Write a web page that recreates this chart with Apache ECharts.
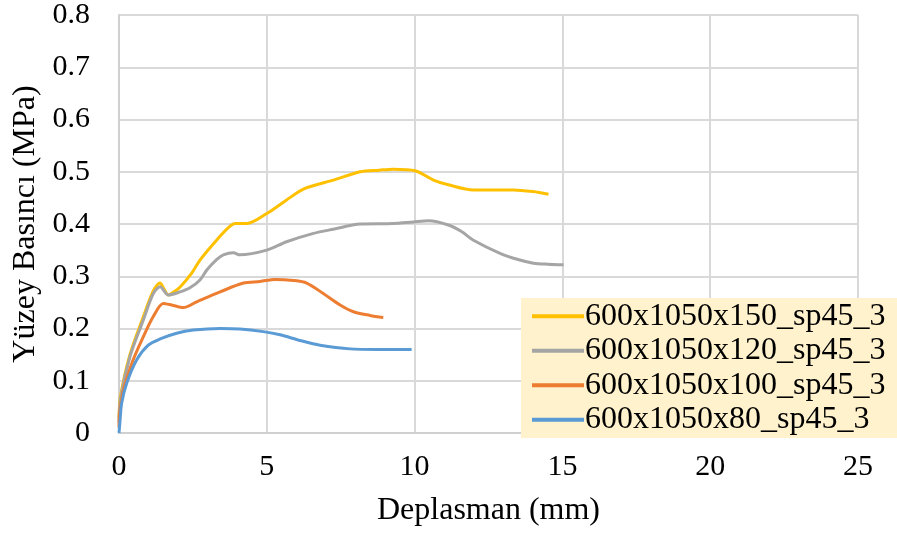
<!DOCTYPE html>
<html>
<head>
<meta charset="utf-8">
<script src="https://cdn.jsdelivr.net/npm/echarts@6/dist/echarts.min.js"></script>
<style>
html,body{margin:0;padding:0;background:#fff;}
#chart{width:897px;height:535px;}
</style>
</head>
<body>
<div id="chart"></div>
<script>
var seriesNames = ['600x1050x150_sp45_3','600x1050x120_sp45_3','600x1050x100_sp45_3','600x1050x80_sp45_3'];
var seriesColors = ['#FFC000','#A5A5A5','#ED7D31','#5B9BD5'];
var xTicks = [0,5,10,15,20,25];
var yTicks = [0,0.1,0.2,0.3,0.4,0.5,0.6,0.7,0.8];

var s150 = [[0,0.03],[0.05,0.07],[0.37,0.15],[0.82,0.222],[1.16,0.272],[1.39,0.287],[1.5,0.278],[1.67,0.264],[1.85,0.27],[2.06,0.279],[2.46,0.306],[2.74,0.331],[3.3,0.369],[3.7,0.393],[3.93,0.401],[4.32,0.401],[5.0,0.42],[5.67,0.446],[6.29,0.468],[7.25,0.484],[8.16,0.5],[8.8,0.503],[9.28,0.505],[10.02,0.502],[10.64,0.484],[11.14,0.475],[11.99,0.465],[13.34,0.465],[14.0,0.462],[14.53,0.457]];
var s120 = [[0,0.02],[0.05,0.065],[0.37,0.146],[0.82,0.216],[1.16,0.267],[1.39,0.28],[1.67,0.264],[2.06,0.27],[2.4,0.278],[2.74,0.293],[2.97,0.312],[3.3,0.332],[3.53,0.341],[3.87,0.345],[4.09,0.341],[5.0,0.35],[5.67,0.366],[6.58,0.382],[7.25,0.39],[8.16,0.4],[9.28,0.401],[9.96,0.404],[10.47,0.406],[11.14,0.398],[11.6,0.385],[11.99,0.369],[12.89,0.344],[13.5,0.332],[14.02,0.325],[14.5,0.323],[15.04,0.322]];
var s100 = [[0,0.01],[0.02,0.038],[0.15,0.082],[0.48,0.14],[0.82,0.184],[1.16,0.223],[1.5,0.248],[1.78,0.245],[2.18,0.24],[2.63,0.251],[3.42,0.27],[4.21,0.287],[4.77,0.29],[5.28,0.294],[5.9,0.292],[6.35,0.287],[6.91,0.267],[7.48,0.245],[7.93,0.232],[8.49,0.225],[8.94,0.221]];
var s80 = [[0,0],[0.03,0.02],[0.09,0.057],[0.26,0.095],[0.6,0.14],[0.99,0.168],[1.39,0.18],[1.95,0.191],[2.51,0.197],[3.42,0.2],[4.09,0.199],[4.88,0.194],[5.45,0.188],[6.13,0.177],[6.8,0.168],[7.82,0.161],[8.72,0.16],[9.9,0.16]];

var seriesData = [s150, s120, s100, s80];
var FONT = '"Liberation Serif", "Times New Roman", serif';

var chart = echarts.init(document.getElementById('chart'), null, {renderer:'canvas'});
chart.setOption({
  animation: false,
  backgroundColor: '#ffffff',
  grid: {left: 119, right: 39, top: 15, bottom: 102, containLabel: false},
  xAxis: {
    type: 'value', min: xTicks[0], max: xTicks[xTicks.length-1], interval: 5,
    name: 'Deplasman (mm)', nameLocation: 'middle', nameGap: 62,
    nameTextStyle: {fontFamily: FONT, fontSize: 32, color: '#000'},
    axisLine: {show: true, lineStyle: {color: '#D0D0D0', width: 2}},
    axisTick: {show: false},
    axisLabel: {fontFamily: FONT, fontSize: 30, color: '#000', margin: 19},
    splitLine: {show: true, lineStyle: {color: '#D9D9D9', width: 2}}
  },
  yAxis: {
    type: 'value', min: yTicks[0], max: yTicks[yTicks.length-1], interval: 0.1,
    name: 'Yüzey Basıncı (MPa)', nameLocation: 'middle', nameGap: 74,
    nameTextStyle: {fontFamily: FONT, fontSize: 32, color: '#000'},
    axisLine: {show: true, lineStyle: {color: '#D0D0D0', width: 2}},
    axisTick: {show: false},
    axisLabel: {fontFamily: FONT, fontSize: 30, color: '#000', margin: 29,
      formatter: function(v){ return String(Math.round(v*10)/10); }},
    splitLine: {show: true, lineStyle: {color: '#D9D9D9', width: 2}}
  },
  legend: {
    orient: 'vertical', left: 521, top: 298,
    backgroundColor: '#FFF2CC', borderWidth: 0,
    padding: [1, 12, 1, 11],
    itemGap: 0, itemWidth: 52, itemHeight: 4, icon: 'rect',
    textStyle: {fontFamily: FONT, fontSize: 32, color: '#000', lineHeight: 34.5, padding: [0,0,0,-4]},
    data: seriesNames
  },
  series: seriesData.map(function(d, i){
    return {
      name: seriesNames[i], type: 'line', data: d,
      showSymbol: false, symbol: 'none', smooth: 0.3,
      lineStyle: {color: seriesColors[i], width: 3},
      itemStyle: {color: seriesColors[i]}
    };
  })
});
</script>
</body>
</html>
